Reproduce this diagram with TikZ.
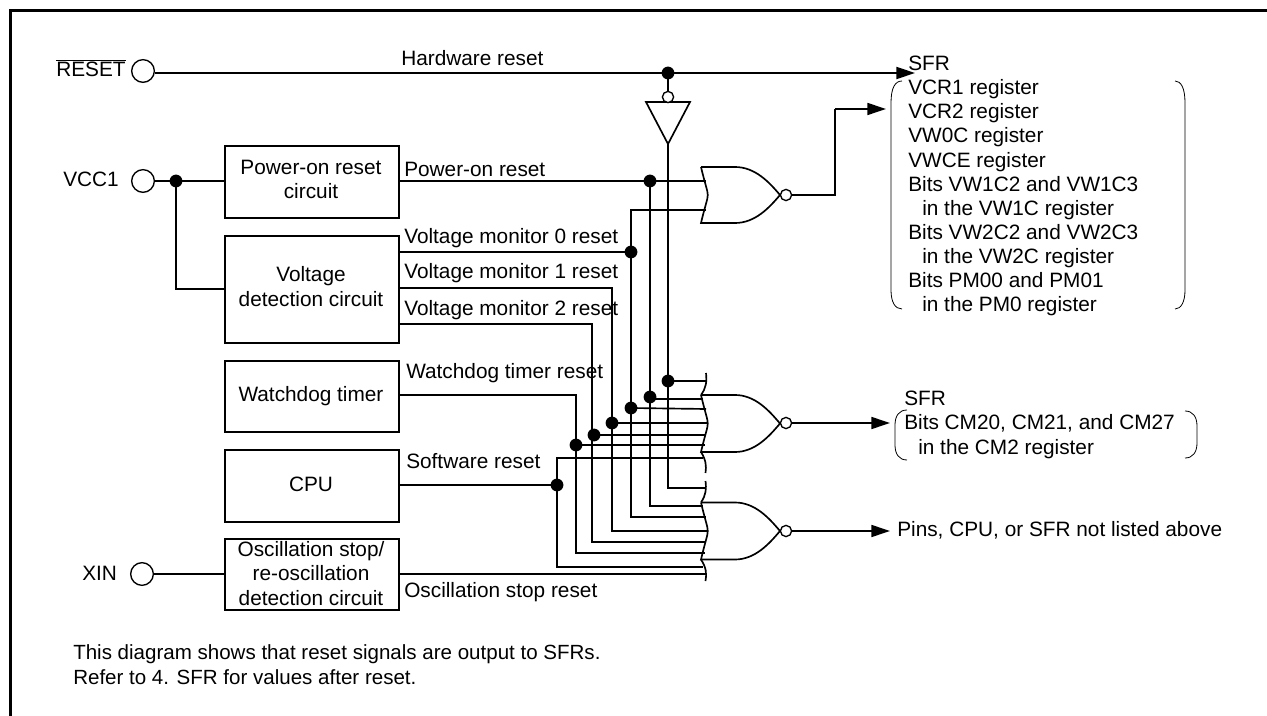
\documentclass[tikz,border=0pt]{standalone}
\usepackage{fontspec}
\setmainfont{Liberation Sans}
\usetikzlibrary{arrows.meta}
\tikzset{
  x=0.75pt,y=-0.75pt,
  wire/.style={line width=1.25pt},
  gate/.style={line width=1.25pt},
  sigbox/.style={draw,line width=1.2pt,anchor=north west,inner sep=0pt},
  txt/.style={anchor=base west,inner sep=0pt,font=\fontsize{15.6}{18}\selectfont},
  note/.style={anchor=base west,inner sep=0pt,font=\fontsize{15.4}{18}\selectfont},
  ctr/.style={anchor=base,inner sep=0pt,font=\fontsize{15.6}{18}\selectfont},
  pin/.style={circle,draw,line width=1.0pt,fill=white,minimum size=17pt,inner sep=0pt},
  jn/.style={circle,fill=black,minimum size=9.6pt,inner sep=0pt},
  bub/.style={circle,draw,line width=1.0pt,fill=white,minimum size=8.4pt,inner sep=0pt},
  arr/.style={-{Triangle[length=14pt,width=9pt]}},
  brk/.style={line width=0.6pt},
}
\newcommand{\norgate}[2]{%
  \draw[gate] (701,#1-#2) -- (735,#1-#2) .. controls (755,#1-#2) and (769,#1-13) .. (780,#1)
    .. controls (769,#1+13) and (755,#1+#2) .. (735,#1+#2) -- (701,#1+#2)
    .. controls (710,#1-10) and (710,#1+10) .. (701,#1-#2);
}
\begin{document}
\begin{tikzpicture}
\useasboundingbox (0,0) rectangle (1267,716);
\draw[line width=2.5pt] (10.3,716) -- (10.3,10.5) -- (1267,10.5);
% boxes
\node[sigbox,minimum width=130.5pt,minimum height=54pt] (b1) at (224,145) {};
\node[sigbox,minimum width=130.5pt,minimum height=80.25pt] (b2) at (224,235) {};
\node[sigbox,minimum width=130.5pt,minimum height=53.25pt] (b3) at (224,360) {};
\node[sigbox,minimum width=130.5pt,minimum height=54pt] (b4) at (224,449) {};
\node[sigbox,minimum width=130.5pt,minimum height=53.25pt] (b5) at (224,538) {};
\node[ctr] (t1a) at (311,175) {Power-on reset};
\node[ctr] (t1b) at (311,199) {circuit};
\node[ctr] (t2a) at (311,282) {Voltage};
\node[ctr] (t2b) at (311,307) {detection circuit};
\node[ctr] (t3) at (311,402) {Watchdog timer};
\node[ctr] (t4) at (311,491) {CPU};
\node[ctr] (t5a) at (311,556) {Oscillation stop/};
\node[ctr] (t5b) at (311,580) {re-oscillation};
\node[ctr] (t5c) at (311,605) {detection circuit};
% pins and junctions
\node[pin] (pr) at (143,71) {};
\node[pin] (pv) at (143,181) {};
\node[pin] (px) at (142,574) {};
\node[jn] (dh) at (668,73) {};
\node[jn] (dv) at (176,181) {};
\node[jn] (dp) at (650,181) {};
\node[jn] (d0) at (631,252) {};
\node[jn] (ds) at (557,485) {};
\node[jn] (i1) at (668,381) {};
\node[jn] (i2) at (650,397) {};
\node[jn] (i3) at (631,408) {};
\node[jn] (i4) at (612,423) {};
\node[jn] (i5) at (594,435) {};
\node[jn] (i6) at (576,445) {};
% free coordinates
\coordinate (ha) at (915,73);
\coordinate (ia) at (668,144);
\coordinate (g1a) at (706,181);
\coordinate (g1b) at (706,210);
\coordinate (c0) at (631,210);
\coordinate (c1) at (612,288);
\coordinate (c2) at (592,324);
\coordinate (c3) at (576,395);
\coordinate (g2b) at (703,399);
\coordinate (g2c) at (706,409);
\coordinate (g2d) at (707,423);
\coordinate (g2e) at (706,435);
\coordinate (g2f) at (705,445);
\coordinate (g2g) at (703,458);
\coordinate (g2a) at (706,381);
\coordinate (g3a) at (706,488);
\coordinate (g3b) at (703,506);
\coordinate (g3c) at (706,517);
\coordinate (g3d) at (707,531);
\coordinate (g3e) at (706,542);
\coordinate (g3f) at (705,553);
\coordinate (g3g) at (703,567);
\coordinate (g3h) at (706,574);
\coordinate (o1) at (835,109);
\coordinate (a1) at (886,109);
\coordinate (a2) at (890,423);
\coordinate (a3) at (890,531);
% wires
\draw[wire,line width=1.5pt] (pr.east |- dh) -- (dh.center);
\draw[wire,line width=1.5pt,arr] (dh.center) -- (ha);
\draw[wire] (pv) -- (b1.west |- pv);
\draw[wire] (dv.center) |- (b2.west);
\draw[wire] (px) -- (b5.west |- px);
\draw[wire] (b1.east |- dp) -- (dp.center) -- (g1a);
\draw[wire] (dp.center) |- (g3b);
\draw[wire] (b2.east |- d0) -- (d0.center);
\draw[wire] (g1b) -- (c0) -- (d0.center) |- (g3c);
\draw[wire] (b2.east |- c1) -- (c1) |- (g3d);
\draw[wire] (b2.east |- c2) -- (c2) |- (g3e);
\draw[wire] (b3.east |- c3) -- (c3) |- (g3f);
\draw[wire] (b4.east |- ds) -- (ds.center);
\draw[wire] (g2g) -| (ds.center) |- (g3g);
\draw[wire] (b5.east |- g3h) -- (g3h);
\draw[wire] (ia) |- (g3a);
\draw[wire] (i1.center) -- (g2a);
\draw[wire] (i2.center |- g2b) -- (g2b);
\draw[wire] (i3.center) -- (g2c);
\draw[wire] (i4.center) -- (g2d);
\draw[wire] (i5.center) -- (g2e);
\draw[wire] (i6.center) -- (g2f);
% gates
\norgate{195}{28}
\norgate{423.5}{28.5}
\norgate{531}{28.5}
\draw[gate] (706,373) .. controls (707,382) and (706,388) .. (701,395);
\draw[gate] (701,452) .. controls (706,460) and (706.5,466) .. (705.5,473);
\draw[gate] (705.5,481) .. controls (706.5,489) and (706,495) .. (701,502.5);
\draw[gate] (701,559.5) .. controls (706,567) and (707,574) .. (705.5,581);
% inverter
\draw[wire] (dh.center) -- (668,92);
\draw[gate] (646,102) -- (690,102) -- (ia) -- cycle;
\node[bub] (ib) at (668,97) {};
% gate outputs
\node[bub] (n1) at (786,195) {};
\node[bub] (n2) at (786,423) {};
\node[bub] (n3) at (786,531) {};
\draw[wire] (n1) -- (o1 |- n1) -- (o1);
\draw[wire,arr] (o1) -- (a1);
\draw[wire,arr] (n2) -- (a2);
\draw[wire,arr] (n3) -- (a3);
% brackets
\draw[brk] (902,81) .. controls (895,81) and (891,88) .. (891,103) -- (891,290) .. controls (891,302) and (895,309) .. (902,309);
\draw[brk] (1175,81) .. controls (1181,81) and (1185,88) .. (1185,103) -- (1185,290) .. controls (1185,302) and (1181,309) .. (1175,309);
\draw[brk] (907,410) .. controls (899,410) and (895,416) .. (895,425) -- (895,445) .. controls (895,454) and (899,460) .. (907,460);
\draw[brk] (1185,411) .. controls (1193,411) and (1197,417) .. (1197,426) -- (1197,443) .. controls (1197,452) and (1193,458) .. (1185,458);
% labels
\node[txt] (lr) at (56,77) {\rlap{\rule[12pt]{52.5pt}{0.6pt}}RESET};
\node[txt] (lv) at (63,187) {VCC1};
\node[txt] (lx) at (82,580) {XIN};
\node[txt] (w0) at (401,66) {Hardware reset};
\node[txt] (w1) at (404,177) {Power-on reset};
\node[txt] (w2) at (404,244) {Voltage monitor 0 reset};
\node[txt] (w3) at (404,279) {Voltage monitor 1 reset};
\node[txt] (w4) at (404,316) {Voltage monitor 2 reset};
\node[txt] (w5) at (406,379) {Watchdog timer reset};
\node[txt] (w6) at (406,468) {Software reset};
\node[txt] (w7) at (404,597) {Oscillation stop reset};
\node[txt] (s0) at (908,71) {SFR};
\node[txt] (s1) at (908,95) {VCR1 register};
\node[txt] (s2) at (908,119) {VCR2 register};
\node[txt] (s3) at (908,143) {VW0C register};
\node[txt] (s4) at (908,168) {VWCE register};
\node[txt] (s5) at (908,192) {Bits VW1C2 and VW1C3};
\node[txt] (s6) at (922,216) {in the VW1C register};
\node[txt] (s7) at (908,240) {Bits VW2C2 and VW2C3};
\node[txt] (s8) at (922,264) {in the VW2C register};
\node[txt] (s9) at (908,288) {Bits PM00 and PM01};
\node[txt] (s10) at (922,312) {in the PM0 register};
\node[txt] (r0) at (904,406) {SFR};
\node[txt] (r1) at (904,430) {Bits CM20, CM21, and CM27};
\node[txt] (r2) at (918,454) {in the CM2 register};
\node[txt] (r3) at (897,536) {Pins, CPU, or SFR not listed above};
\node[note] (n5) at (73,659) {This diagram shows that reset signals are output to SFRs.};
\node[note] (n6) at (73,684) {Refer to 4. SFR for values after reset.};
\end{tikzpicture}
\end{document}
